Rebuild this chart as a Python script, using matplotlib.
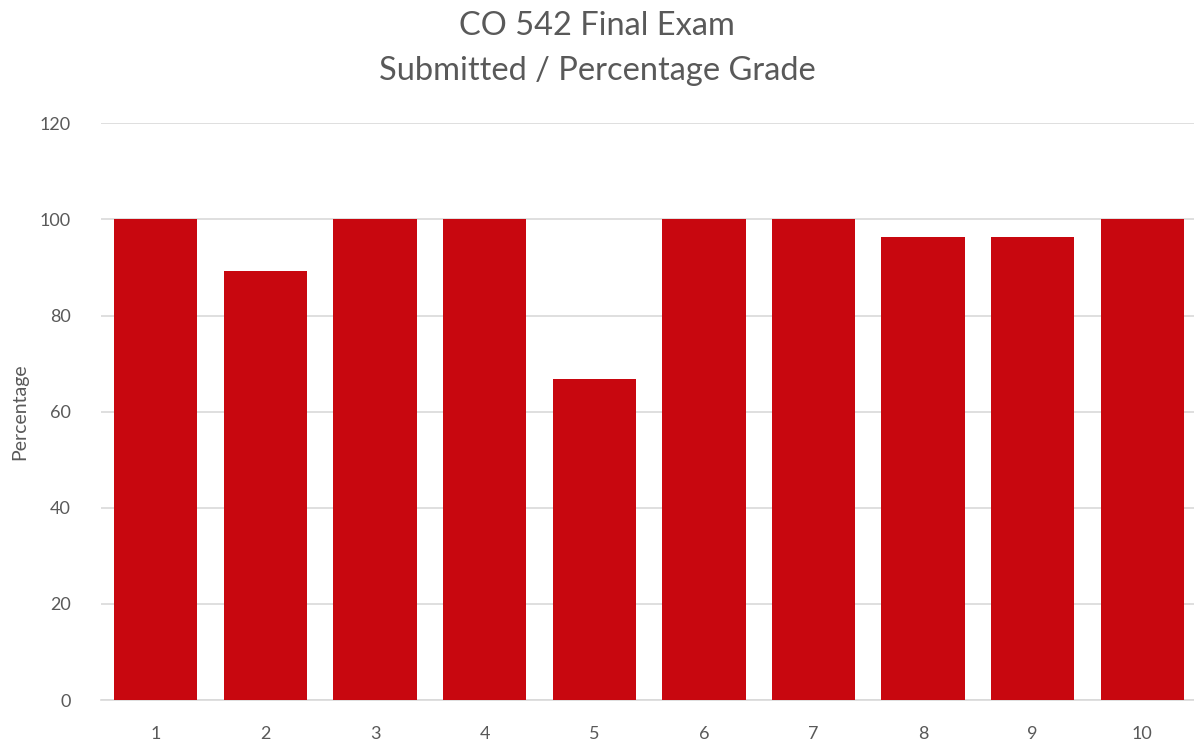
import matplotlib
matplotlib.use("Agg")
import matplotlib.pyplot as plt

plt.rcParams['font.family'] = ['Lato', 'DejaVu Sans']

# data
students = ['1', '2', '3', '4', '5', '6', '7', '8', '9', '10']
grades = [100, 89.3, 100, 100, 66.7, 100, 100, 96.4, 96.4, 100]

text_color = '#595959'
bar_color = '#C8070F'

fig = plt.figure(figsize=(11.94, 7.47), dpi=100)
ax = fig.add_axes([0.0846, 0.0629, 0.918, 0.772])

x = range(len(students))
ax.bar(x, grades, width=0.76, color=bar_color, zorder=3)

ax.set_xlim(-0.5, len(students) - 0.5)
ax.set_ylim(0, 120)
ax.set_yticks(range(0, 121, 20))
ax.set_xticks(list(x))
ax.set_xticklabels(students)
ax.yaxis.grid(True, color='#d9d9d9', linewidth=1.2, zorder=0)
ax.set_axisbelow(True)

for side in ['top', 'right', 'left']:
    ax.spines[side].set_visible(False)
ax.spines['bottom'].set_color('#d9d9d9')
ax.spines['bottom'].set_linewidth(1.2)

ax.tick_params(axis='both', length=0, labelsize=13, colors=text_color)
ax.tick_params(axis='y', pad=22)
ax.tick_params(axis='x', pad=19)

ax.set_ylabel('Percentage', fontsize=14, color=text_color)
ax.yaxis.set_label_coords(-0.066, 0.5)

fig.text(0.5, 0.965, 'CO 542 Final Exam', ha='center', va='center',
         fontsize=23.5, color=text_color)
fig.text(0.5, 0.905, 'Submitted / Percentage Grade', ha='center', va='center',
         fontsize=23.5, color=text_color)

fig.savefig('out.png', dpi=100)
